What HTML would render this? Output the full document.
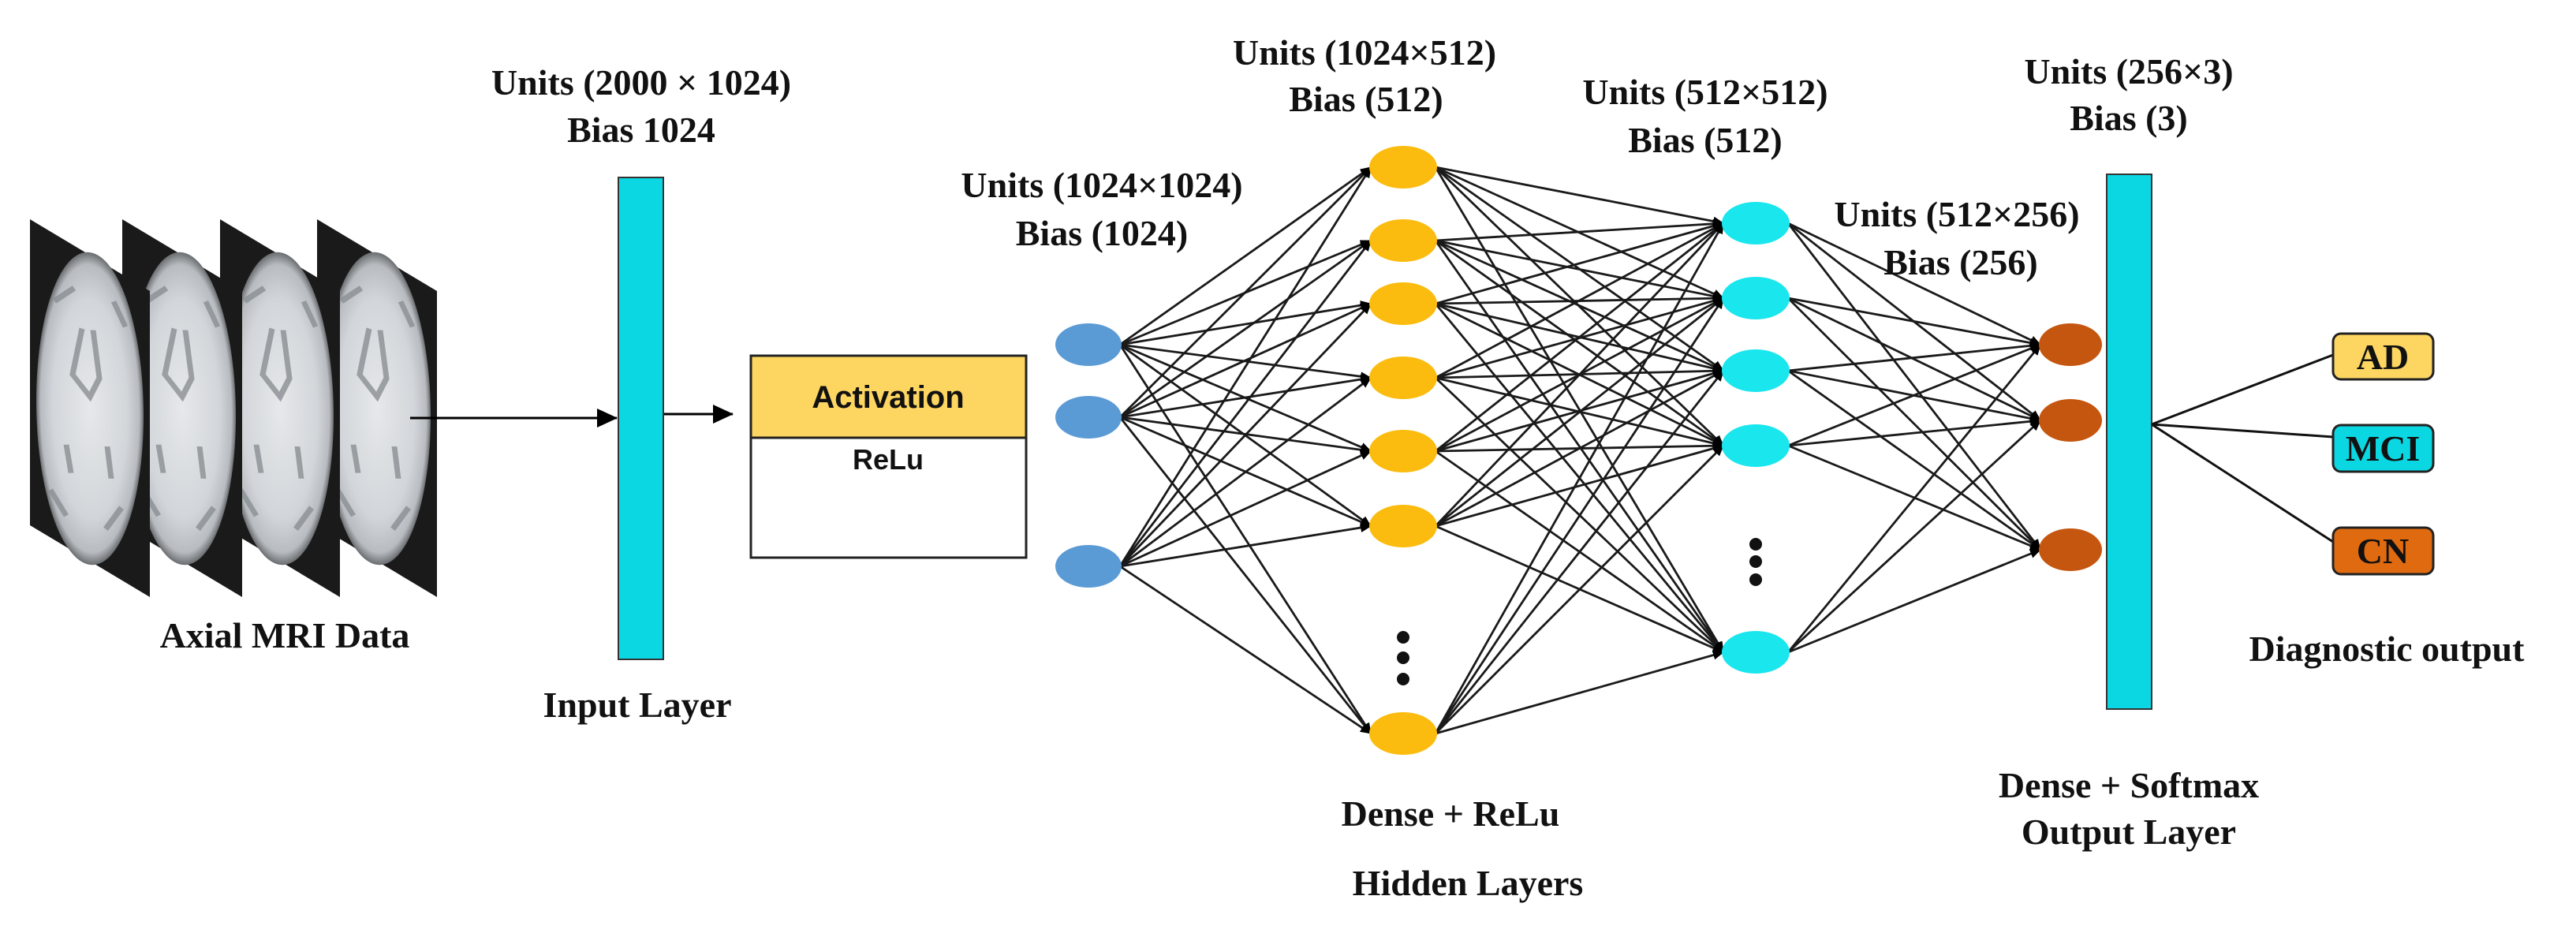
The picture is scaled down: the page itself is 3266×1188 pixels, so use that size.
<!DOCTYPE html>
<html><head><meta charset="utf-8"><style>
html,body{margin:0;padding:0;background:#fff;}
svg{display:block;}
.t{font-family:"Liberation Serif",serif;font-weight:bold;font-size:46px;fill:#111;text-anchor:middle;}
</style></head><body>
<svg id="s" width="3266" height="1188" viewBox="0 0 3266 1188" xmlns="http://www.w3.org/2000/svg">
<defs>
<marker id="ah" markerWidth="14" markerHeight="14" refX="13" refY="7" orient="auto" markerUnits="userSpaceOnUse">
<path d="M0,1 L14,7 L0,13 z" fill="#000"/></marker>
<marker id="ab" markerWidth="26" markerHeight="24" refX="25" refY="12" orient="auto" markerUnits="userSpaceOnUse">
<path d="M0,0 L26,12 L0,24 z" fill="#000"/></marker>
<radialGradient id="br" cx="50%" cy="50%" r="50%">
<stop offset="0" stop-color="#e6e8ea"/><stop offset="0.7" stop-color="#d2d6da"/><stop offset="0.92" stop-color="#b8bcc0"/><stop offset="1" stop-color="#6a6d70"/></radialGradient>
</defs>
<g id="mri"></g>
<g id="lines" stroke="#1a1a1a" stroke-width="2.8"></g>
<g id="nodes"></g>

<line x1="520" y1="530" x2="782" y2="530" stroke="#000" stroke-width="3" marker-end="url(#ab)"/>
<line x1="841" y1="525" x2="929" y2="525" stroke="#000" stroke-width="3" marker-end="url(#ab)"/>

<rect x="784" y="225" width="57" height="611" fill="#0bd7e3" stroke="#333" stroke-width="2"/>

<rect x="952" y="451" width="349" height="256" fill="#fff" stroke="#222" stroke-width="3"/>
<rect x="952" y="451" width="349" height="104" fill="#fdd561" stroke="#222" stroke-width="3"/>
<text x="1126" y="517" font-family="Liberation Sans,sans-serif" font-weight="bold" font-size="40" text-anchor="middle" fill="#111">Activation</text>
<text x="1126" y="595" font-family="Liberation Sans,sans-serif" font-weight="bold" font-size="36" text-anchor="middle" fill="#111">ReLu</text>

<g id="nodes2"></g>
<rect x="2671" y="221" width="57" height="678" fill="#0bd7e3" stroke="#333" stroke-width="2"/>

<g stroke="#111" stroke-width="3">
<line x1="2728" y1="538" x2="2958" y2="450"/>
<line x1="2728" y1="538" x2="2958" y2="554"/>
<line x1="2728" y1="538" x2="2958" y2="687"/>
</g>
<rect x="2958" y="423" width="127" height="58" rx="10" fill="#fdd561" stroke="#222" stroke-width="3"/>
<rect x="2958" y="539" width="127" height="59" rx="10" fill="#0bd7e3" stroke="#222" stroke-width="3"/>
<rect x="2958" y="669" width="127" height="59" rx="10" fill="#e06a10" stroke="#222" stroke-width="3"/>
<text class="t" x="3021" y="468">AD</text>
<text class="t" x="3021" y="584">MCI</text>
<text class="t" x="3021" y="714">CN</text>

<text class="t" x="813" y="120">Units (2000 × 1024)</text>
<text class="t" x="813" y="180">Bias 1024</text>
<text class="t" x="1397" y="250">Units (1024×1024)</text>
<text class="t" x="1397" y="311">Bias (1024)</text>
<text class="t" x="1730" y="82">Units (1024×512)</text>
<text class="t" x="1732" y="141">Bias (512)</text>
<text class="t" x="2162" y="132">Units (512×512)</text>
<text class="t" x="2162" y="193">Bias (512)</text>
<text class="t" x="2481" y="287">Units (512×256)</text>
<text class="t" x="2486" y="348">Bias (256)</text>
<text class="t" x="2699" y="106">Units (256×3)</text>
<text class="t" x="2699" y="165">Bias (3)</text>
<text class="t" x="361" y="821">Axial MRI Data</text>
<text class="t" x="808" y="909">Input Layer</text>
<text class="t" x="1839" y="1047">Dense + ReLu</text>
<text class="t" x="1861" y="1135">Hidden Layers</text>
<text class="t" x="2699" y="1011">Dense + Softmax</text>
<text class="t" x="2699" y="1070">Output Layer</text>
<text class="t" x="3026" y="838">Diagnostic output</text>
</svg>
<script>
var NS="http://www.w3.org/2000/svg";
function el(p,n,a){var e=document.createElementNS(NS,n);for(var k in a)e.setAttribute(k,a[k]);p.appendChild(e);return e;}
var mri=document.getElementById('mri');
[402,279,155,38].forEach(function(x0){
  var g=el(mri,'g',{});
  el(g,'polygon',{points:x0+',278 '+(x0+152)+',369 '+(x0+152)+',757 '+x0+',666',fill:'#1b1a1a'});
  var cx=x0+76, cy=518;
  var gg=el(g,'g',{transform:'translate('+cx+','+cy+') skewY(8)'});
  el(gg,'ellipse',{cx:0,cy:0,rx:68,ry:198,fill:'url(#br)'});
  el(gg,'path',{d:'M-10,-100 L-22,-40 L0,-15 L12,-40 L4,-100 M-30,50 L-24,85 M22,45 L27,85 M-45,-130 L-20,-150 M30,-140 L45,-110 M-50,110 L-30,140 M40,120 L20,150',stroke:'#8a8f94',"stroke-width":7,fill:'none',opacity:0.8});
});
var L=[[1380,[437,529,718],42,'#5b9bd5'],
 [1779,[212,305,385,479,572,667,930],43,'#fbbc0f'],
 [2226,[283,378,470,565,827],43,'#1ae6ee'],
 [2625,[437,533,697],40,'#c5560f']];
var lines=document.getElementById('lines'), nodes=document.getElementById('nodes');
for(var i=0;i<3;i++){var a=L[i],b=L[i+1];
 a[1].forEach(function(y1){b[1].forEach(function(y2){
  el(lines,'line',{x1:a[0]+a[2]-2,y1:y1,x2:b[0]-b[2]+2,y2:y2,"marker-end":"url(#ah)"});});});}
L.forEach(function(l){l[1].forEach(function(y){el(nodes,'ellipse',{cx:l[0],cy:y,rx:l[2],ry:27,fill:l[3]});});});
[[1779,808],[1779,834],[1779,861],[2226,690],[2226,712],[2226,735]].forEach(function(p){el(nodes,'circle',{cx:p[0],cy:p[1],r:8,fill:'#111'});});
</script>
</body></html>
